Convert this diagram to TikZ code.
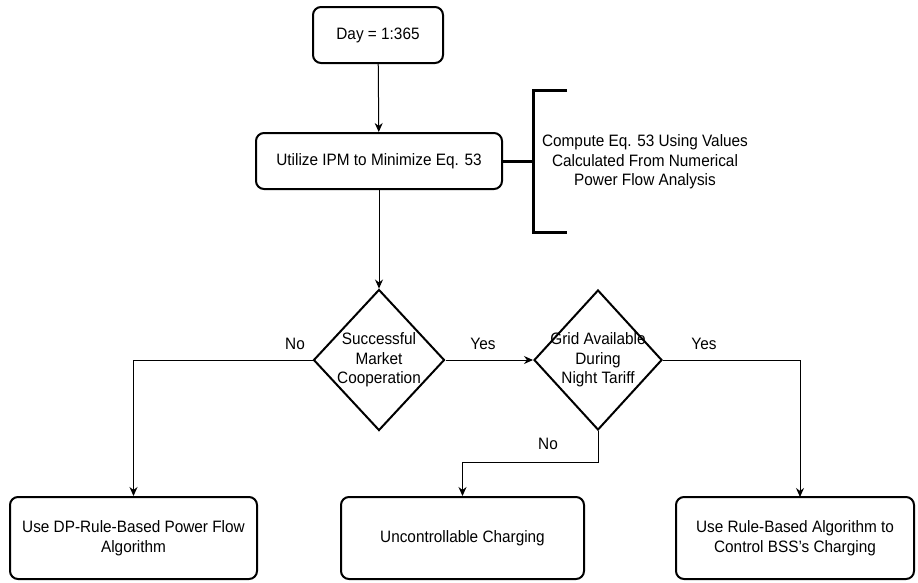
\documentclass[tikz,border=0pt]{standalone}
\usepackage{fontspec}
\setmainfont[FakeStretch=0.93]{Liberation Sans}
\usetikzlibrary{shapes.geometric,arrows.meta}
\begin{document}
\begin{tikzpicture}[x=1pt,y=-1pt,
  every node/.style={font=\fontsize{16.5}{19.5}\selectfont, align=center, inner sep=0pt},
  procbox/.style={draw, line width=2pt, rounded corners=8pt},
  decision/.style={draw, diamond, line width=2pt},
  flow/.style={line width=1pt, -{Stealth[length=9pt,width=8pt]}}]
\useasboundingbox (0,0) rectangle (918,582);

% process boxes
\node[procbox, minimum width=130pt, minimum height=56pt] (day) at (378,35) {Day = 1:365};
\node[procbox, minimum width=246pt, minimum height=56pt] (ipm) at (379,161) {Utilize IPM to Minimize Eq. 53};

% bracket note
\node (note) at (645,162) {Compute Eq. 53 Using Values\\Calculated From Numerical\\Power Flow Analysis};
\coordinate (brtop) at (567,90);
\coordinate (brbot) at (567,232);
\coordinate (brmid) at (533,161);
\draw[line width=3pt] (brtop) -- (533,90) -- (533,232) -- (brbot);
\draw[line width=3pt] (ipm.east) -- (brmid);

% decisions
\node[decision, minimum width=131pt, minimum height=141pt,
  label={[align=center]center:Successful\\Market\\Cooperation}] (mkt) at (379,360) {};
\node[decision, minimum width=128pt, minimum height=140pt,
  label={[align=center]center:Grid Available\\During\\Night Tariff}] (grid) at (598,360) {};

% outcome boxes
\node[procbox, minimum width=247pt, minimum height=82pt] (dp) at (133.5,538) {Use DP-Rule-Based Power Flow\\Algorithm};
\node[procbox, minimum width=243pt, minimum height=82pt] (unc) at (462.5,538) {Uncontrollable Charging};
\node[procbox, minimum width=238pt, minimum height=82pt] (rule) at (795,538) {Use Rule-Based Algorithm to\\Control BSS's Charging};
\coordinate (rulein) at (800,497);

% connectors
\draw[flow] (day) -- (ipm);
\draw[flow] (ipm) -- (mkt);
\draw[flow] (mkt.east) -- (grid.west);
\draw[flow] (mkt.west) -| (dp.north);
\draw[flow] (grid.east) -| (rulein);
\draw[flow] (grid.south) -- (grid.south |- 0,462) -| (unc.north);

% branch labels
\node (no1) at (295,344) {No};
\node (yes1) at (483,344) {Yes};
\node (yes2) at (704,344) {Yes};
\node (no2) at (548,444) {No};
\end{tikzpicture}
\end{document}
